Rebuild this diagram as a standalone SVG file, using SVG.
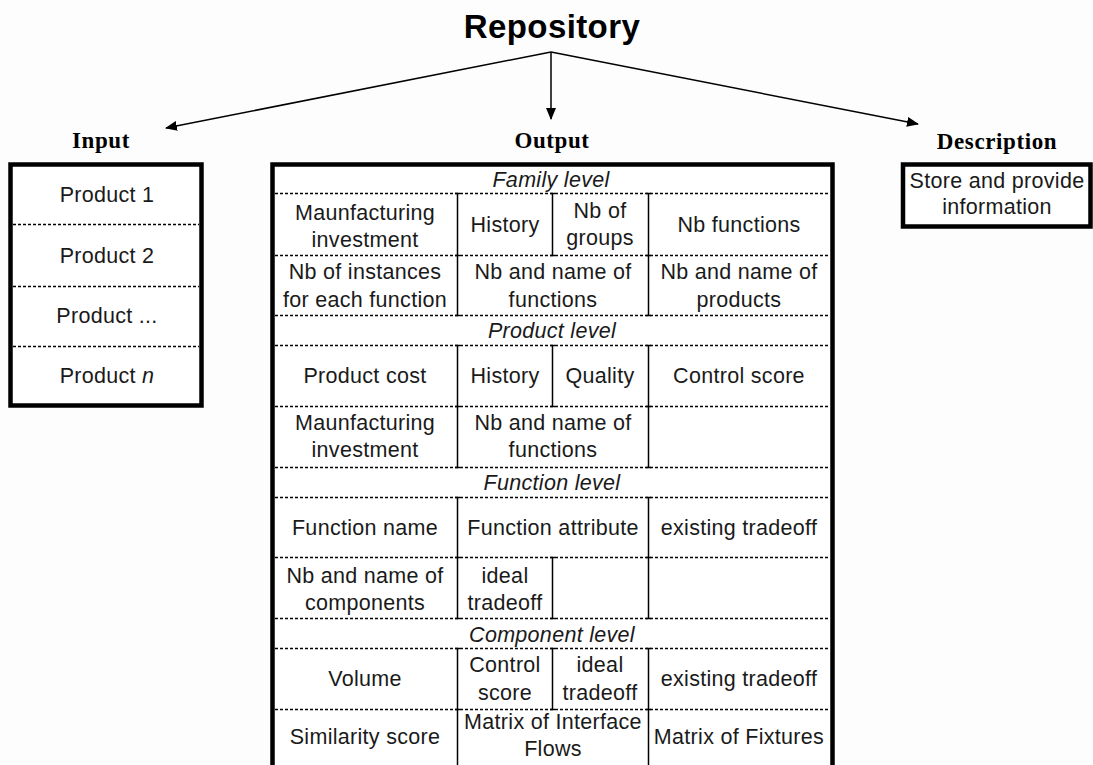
<svg xmlns="http://www.w3.org/2000/svg" width="1093" height="765" viewBox="0 0 1093 765">
  <style>
    .bg { fill: #fdfdfd; }
    .box { fill: #ffffff; stroke: #000; stroke-width: 4.5; }
    .dash { fill: none; stroke: #000; stroke-width: 1.3; stroke-dasharray: 3 2; }
    .rule { fill: none; stroke: #000; stroke-width: 1.5; }
    .tick { fill: none; stroke: #000; stroke-width: 1.5; }
    .link { fill: none; stroke: #000; stroke-width: 1.5; }
    .title { font-family: "Liberation Sans", Arial, sans-serif; font-weight: bold; font-size: 33px; letter-spacing: 0.4px; text-anchor: middle; fill: #000; }
    .head { font-family: "Liberation Serif", "Times New Roman", serif; font-weight: bold; font-size: 23px; letter-spacing: 0.6px; text-anchor: middle; fill: #000; }
    .cell { font-family: "Liberation Sans", Arial, sans-serif; font-size: 21.5px; letter-spacing: 0.3px; text-anchor: middle; fill: #1a1a1a; }
    .level { font-family: "Liberation Sans", Arial, sans-serif; font-size: 21.5px; font-style: italic; letter-spacing: 0.3px; text-anchor: middle; fill: #1a1a1a; }
  </style>
  <defs>
    <marker id="arrow" viewBox="0 0 12 10" refX="11" refY="5" markerWidth="12" markerHeight="10" markerUnits="userSpaceOnUse" orient="auto">
      <path d="M0,0 L12,5 L0,10 Z" fill="#000"/>
    </marker>
  </defs>

  <rect class="bg" x="0" y="0" width="1093" height="765"/>

  <!-- title -->
  <g id="repository">
    <text class="title" x="552" y="38">Repository</text>
  </g>

  <!-- connectors from the repository -->
  <g id="connectors">
    <path class="link" d="M551,52 L166,128" marker-end="url(#arrow)"/>
    <path class="link" d="M551,52 L551,119" marker-end="url(#arrow)"/>
    <path class="link" d="M551,52 L918,124" marker-end="url(#arrow)"/>
  </g>

  <!-- input list -->
  <g id="input">
    <text class="head" x="101" y="148">Input</text>
    <rect class="box" x="10.5" y="164.5" width="191" height="241"/>
    <path class="dash" d="M13,224.5 H199 M13,286.5 H199 M13,346.5 H199"/>
    <text class="cell" x="107" y="202">Product 1</text>
    <text class="cell" x="107" y="263">Product 2</text>
    <text class="cell" x="107" y="323">Product ...</text>
    <text class="cell" x="107" y="383">Product <tspan font-style="italic">n</tspan></text>
  </g>

  <!-- output table -->
  <g id="output">
    <text class="head" x="552" y="148">Output</text>
    <rect class="box" x="272.5" y="164.5" width="560" height="640"/>
    <path class="dash" d="M275,193.5 H830 M275,255.5 H830 M275,315.5 H830 M275,345.5 H830 M275,406.5 H830 M275,467.5 H830 M275,497.5 H830 M275,557.5 H830 M275,618.5 H830 M275,648.5 H830 M275,709.5 H830"/>
    <path class="rule" d="
      M457.5,193.5 V255.5 M552.5,193.5 V255.5 M648.5,193.5 V255.5
      M457.5,255.5 V315.5 M648.5,255.5 V315.5
      M457.5,345.5 V406.5 M552.5,345.5 V406.5 M648.5,345.5 V406.5
      M457.5,406.5 V467.5 M648.5,406.5 V467.5
      M457.5,497.5 V557.5 M648.5,497.5 V557.5
      M457.5,557.5 V618.5 M552.5,557.5 V618.5 M648.5,557.5 V618.5
      M457.5,648.5 V709.5 M552.5,648.5 V709.5 M648.5,648.5 V709.5
      M457.5,709.5 V770 M648.5,709.5 V770"/>
    <path class="tick" d="
      M455,193.5 H460 M550,193.5 H555 M646,193.5 H651
      M455,255.5 H460 M550,255.5 H555 M646,255.5 H651
      M455,315.5 H460 M646,315.5 H651
      M455,345.5 H460 M550,345.5 H555 M646,345.5 H651
      M455,406.5 H460 M550,406.5 H555 M646,406.5 H651
      M455,467.5 H460 M646,467.5 H651
      M455,497.5 H460 M646,497.5 H651
      M455,557.5 H460 M550,557.5 H555 M646,557.5 H651
      M455,618.5 H460 M550,618.5 H555 M646,618.5 H651
      M455,648.5 H460 M550,648.5 H555 M646,648.5 H651
      M455,709.5 H460 M550,709.5 H555 M646,709.5 H651"/>

    <!-- family level -->
    <text class="level" x="551" y="187">Family level</text>
    <text class="cell" x="365" y="220">Maunfacturing</text>
    <text class="cell" x="365" y="247">investment</text>
    <text class="cell" x="505" y="232">History</text>
    <text class="cell" x="600" y="218">Nb of</text>
    <text class="cell" x="600" y="245">groups</text>
    <text class="cell" x="739" y="232">Nb functions</text>
    <text class="cell" x="365" y="279">Nb of instances</text>
    <text class="cell" x="365" y="307">for each function</text>
    <text class="cell" x="553" y="279">Nb and name of</text>
    <text class="cell" x="553" y="307">functions</text>
    <text class="cell" x="739" y="279">Nb and name of</text>
    <text class="cell" x="739" y="307">products</text>

    <!-- product level -->
    <text class="level" x="552" y="338">Product level</text>
    <text class="cell" x="365" y="383">Product cost</text>
    <text class="cell" x="505" y="383">History</text>
    <text class="cell" x="600" y="383">Quality</text>
    <text class="cell" x="739" y="383">Control score</text>
    <text class="cell" x="365" y="430">Maunfacturing</text>
    <text class="cell" x="365" y="457">investment</text>
    <text class="cell" x="553" y="430">Nb and name of</text>
    <text class="cell" x="553" y="457">functions</text>

    <!-- function level -->
    <text class="level" x="552" y="490">Function level</text>
    <text class="cell" x="365" y="535">Function name</text>
    <text class="cell" x="553" y="535">Function attribute</text>
    <text class="cell" x="739" y="535">existing tradeoff</text>
    <text class="cell" x="365" y="583">Nb and name of</text>
    <text class="cell" x="365" y="610">components</text>
    <text class="cell" x="505" y="583">ideal</text>
    <text class="cell" x="505" y="610">tradeoff</text>

    <!-- component level -->
    <text class="level" x="552" y="642">Component level</text>
    <text class="cell" x="365" y="686">Volume</text>
    <text class="cell" x="505" y="672">Control</text>
    <text class="cell" x="505" y="700">score</text>
    <text class="cell" x="600" y="672">ideal</text>
    <text class="cell" x="600" y="700">tradeoff</text>
    <text class="cell" x="739" y="686">existing tradeoff</text>
    <text class="cell" x="365" y="744">Similarity score</text>
    <text class="cell" x="553" y="729">Matrix of Interface</text>
    <text class="cell" x="553" y="756">Flows</text>
    <text class="cell" x="739" y="744">Matrix of Fixtures</text>
  </g>

  <!-- description -->
  <g id="description">
    <text class="head" x="997" y="149">Description</text>
    <rect class="box" x="903" y="164.5" width="187.5" height="62"/>
    <text class="cell" x="997" y="188">Store and provide</text>
    <text class="cell" x="997" y="214">information</text>
  </g>
</svg>
